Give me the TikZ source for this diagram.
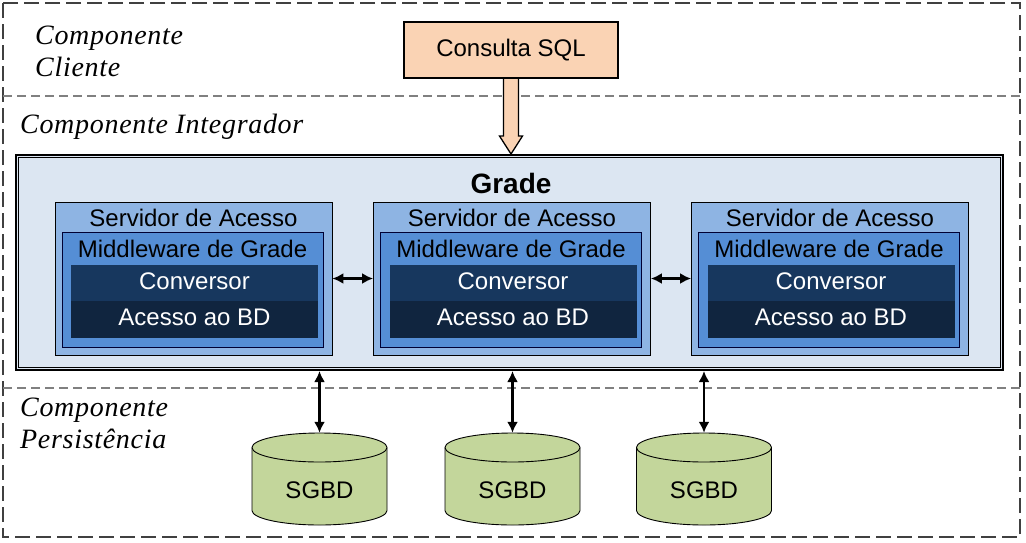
\documentclass[tikz,border=0pt]{standalone}
\usepackage{fontspec}
\setmainfont{Liberation Serif}
\setsansfont{Liberation Sans}
\usetikzlibrary{arrows.meta,calc}
\definecolor{sqlfill}{HTML}{FAD3B4}
\definecolor{gradefill}{HTML}{DCE6F2}
\definecolor{srvfill}{HTML}{8EB4E3}
\definecolor{mwfill}{HTML}{558ED5}
\definecolor{convfill}{HTML}{17375E}
\definecolor{bdfill}{HTML}{10253F}
\definecolor{dbfill}{HTML}{C3D69B}
\definecolor{framegray}{HTML}{404040}
\definecolor{sepgray}{HTML}{808080}
\begin{document}
\begin{tikzpicture}[x=1pt,y=1pt,
  lbl/.style={font=\fontsize{28}{32}\selectfont\itshape\addfontfeatures{LetterSpace=2.5}, anchor=west, align=left, inner sep=0pt},
  sans/.style={font=\fontsize{24}{26}\selectfont\sffamily, inner sep=0pt},
  outerframe/.style={draw=framegray, line width=2.6pt, dash pattern=on 15pt off 6pt},
  sepline/.style={draw=sepgray, line width=1.3pt, dash pattern=on 9pt off 5pt},
  sqlbox/.style={draw=black, line width=1.3pt, fill=sqlfill, minimum width=214, minimum height=56, sans},
  gradebox/.style={draw=black, line width=2pt, fill=gradefill, minimum width=987, minimum height=215, inner sep=0pt},
  srvbox/.style={draw=black, line width=0.8pt, fill=srvfill, minimum width=277, minimum height=153, inner sep=0pt},
  mwbox/.style={draw=black!80!blue, line width=0.8pt, fill=mwfill, minimum width=261, minimum height=115, inner sep=0pt},
  convband/.style={fill=convfill, minimum width=247, minimum height=36, inner sep=0pt},
  bdband/.style={fill=bdfill, minimum width=247, minimum height=37, inner sep=0pt},
  wtext/.style={sans, text=white},
  dbnode/.style={minimum width=135, minimum height=92, inner sep=0pt},
  dbshape/.style={draw=black, line width=0.9pt, fill=dbfill},
  conn/.style={{Latex[length=11pt,width=11pt]}-{Latex[length=11pt,width=11pt]}, line width=2.4pt}
]
\useasboundingbox (0,0) rectangle (1026,-542);

% frame and separators
\draw[outerframe] (3,-3) rectangle (1020,-537);
\draw[sepline] (3,-96) -- (1020,-96);
\draw[sepline] (3,-388) -- (1020,-388);

% labels
\node[lbl] (lcli) at (35,-51) {Componente\\Cliente};
\node[lbl] (lint) at (20,-127) {Componente Integrador};
\node[lbl] (lper) at (20,-423) {Componente\\Persist\^encia};

% grade
\node[gradebox] (grade) at (509.5,-262.5) {};
\draw[black, line width=0.8pt] ([shift={(3.5pt,-3.5pt)}]grade.north west) rectangle ([shift={(-3.5pt,3.5pt)}]grade.south east);
\node[font=\fontsize{28}{30}\selectfont\sffamily\bfseries, inner sep=0pt] (gtitle) at (511,-183) {Grade};

% consulta SQL
\node[sqlbox] (sql) at (511,-50) {Consulta SQL};
\coordinate (tip) at (sql.south |- grade.north);
\draw[fill=sqlfill, line width=1.3pt, line join=miter]
  ([xshift=-7.5pt,yshift=-0.5pt]sql.south) -- ([xshift=-7.5pt,yshift=18pt]tip)
  -- ([xshift=-11.5pt,yshift=18pt]tip) -- (tip)
  -- ([xshift=11.5pt,yshift=18pt]tip) -- ([xshift=7.5pt,yshift=18pt]tip)
  -- ([xshift=7.5pt,yshift=-0.5pt]sql.south);

% servers
\foreach \i/\cx in {1/193.5,2/512,3/830}{
  \node[srvbox] (srv\i) at (\cx,-278.5) {};
  \node[sans] (srvt\i) at (\cx,-218) {Servidor de Acesso};
  \node[mwbox] (mw\i) at (\cx-1,-289.5) {};
  \node[sans] (mwt\i) at (\cx-1,-249) {Middleware de Grade};
  \node[convband] (conv\i) at (\cx+1,-283) {};
  \node[wtext] (convt\i) at (\cx+1,-281) {Conversor};
  \node[bdband] (bd\i) at (\cx+1,-319.5) {};
  \node[wtext] (bdt\i) at (\cx+1,-317) {Acesso ao BD};
}
\draw[conn] (srv1.east) -- (srv2.west);
\draw[conn] (srv2.east) -- (srv3.west);

% databases
\foreach \i/\cx in {1/319.5,2/512.5,3/704}{
  \node[dbnode] (db\i) at (\cx,-479) {};
  \draw[dbshape] (\cx-67.5,-447.5) -- (\cx-67.5,-510.5)
    arc[start angle=180,end angle=360,x radius=67.5,y radius=14.5]
    -- (\cx+67.5,-447.5)
    arc[start angle=0,end angle=180,x radius=67.5,y radius=14.5] -- cycle;
  \draw[dbshape, fill=none] (\cx-67.5,-447.5) arc[start angle=180,end angle=360,x radius=67.5,y radius=14.5];
  \node[sans] (dbt\i) at (\cx,-490) {SGBD};
  \draw[conn] (grade.south -| db\i.north) -- (db\i.north);
}
\end{tikzpicture}
\end{document}
